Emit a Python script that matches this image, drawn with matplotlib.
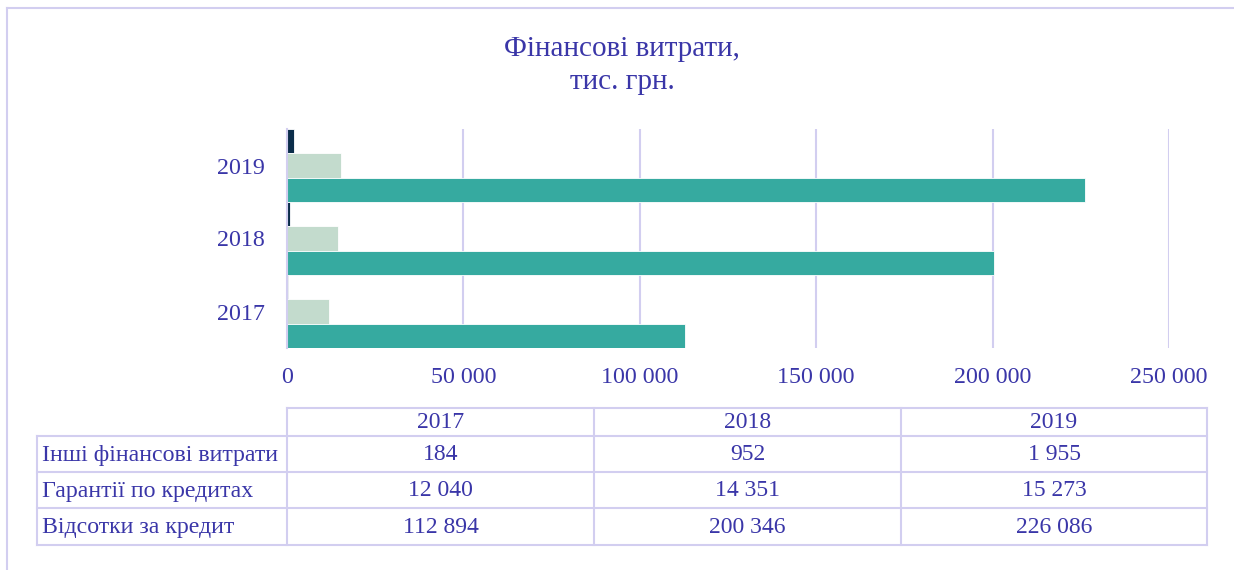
import matplotlib.pyplot as plt
import numpy as np
from matplotlib.ticker import FuncFormatter

years = ['2017', '2018', '2019']
series_names = ['Інші фінансові витрати', 'Гарантії по кредитах', 'Відсотки за кредит']
other_costs = [184, 952, 1955]
guarantees = [12040, 14351, 15273]
interest = [112894, 200346, 226086]
x_ticks = [0, 50000, 100000, 150000, 200000, 250000]

colors = ['#0b2d4a', '#c3dbcd', '#36aaa0']
text_color = '#3a36a8'
line_color = '#d2cef0'

plt.rcParams['font.family'] = ['Liberation Serif', 'DejaVu Serif']


def fmt(v):
    return f'{int(v):,}'.replace(',', ' ')


fig = plt.figure(figsize=(12.34, 5.70), dpi=100)

# frame of the chart area (only top and left visible)
bg = fig.add_axes([0, 0, 1, 1])
bg.set_xlim(0, 1234)
bg.set_ylim(570, 0)
bg.axis('off')
bg.plot([7, 1240], [8, 8], color=line_color, lw=1.5)
bg.plot([7, 7], [8, 575], color=line_color, lw=1.5)

ax = fig.add_axes([287 / 1234, 1 - 348 / 570, 882 / 1234, 219 / 570])
pos = np.arange(len(years))
h = 1 / 3
all_series = [other_costs, guarantees, interest]
for i, vals in enumerate(all_series):
    ax.barh(pos + h - i * h, vals, height=h, color=colors[i],
            edgecolor='white', linewidth=0.6, zorder=3, label=series_names[i])

ax.set_ylim(-0.5, 2.5)
ax.set_xlim(0, 250000)
ax.set_xticks(x_ticks)
ax.xaxis.set_major_formatter(FuncFormatter(lambda v, p: fmt(v)))
ax.set_yticks(pos)
ax.set_yticklabels(years)
ax.tick_params(length=0, labelsize=17.3, labelcolor=text_color)
ax.tick_params(axis='x', pad=14)
ax.tick_params(axis='y', pad=16)
ax.grid(axis='x', color=line_color, lw=1.5, zorder=0)
for s in ['top', 'right', 'bottom']:
    ax.spines[s].set_visible(False)
ax.spines['left'].set_color(line_color)
ax.spines['left'].set_linewidth(1.5)
ax.spines['left'].set_zorder(4)

fig.text(622 / 1234, 1 - 49 / 570, 'Фінансові витрати,', ha='center', va='center',
         fontsize=21, color=text_color)
fig.text(622 / 1234, 1 - 82 / 570, 'тис. грн.', ha='center', va='center',
         fontsize=21, color=text_color)

# data table
col_x = [287, 594, 901, 1207]
row_y = [408, 436, 472, 508, 545]
left_x = 37
lw = 1.5
# header row
bg.plot([col_x[0], col_x[-1]], [row_y[0], row_y[0]], color=line_color, lw=lw)
for y in row_y[1:]:
    bg.plot([left_x, col_x[-1]], [y, y], color=line_color, lw=lw)
for x in col_x:
    bg.plot([x, x], [row_y[0], row_y[-1]], color=line_color, lw=lw)
bg.plot([left_x, left_x], [row_y[1], row_y[-1]], color=line_color, lw=lw)

for j, yr in enumerate(years):
    bg.text((col_x[j] + col_x[j + 1]) / 2, (row_y[0] + row_y[1]) / 2 + 1, yr,
            ha='center', va='center', fontsize=17, color=text_color)
for i, vals in enumerate(all_series):
    yc = (row_y[i + 1] + row_y[i + 2]) / 2 + 1
    bg.text(left_x + 5, yc, series_names[i], ha='left', va='center',
            fontsize=17.2, color=text_color)
    for j, v in enumerate(vals):
        bg.text((col_x[j] + col_x[j + 1]) / 2, yc, fmt(v),
                ha='center', va='center', fontsize=17, color=text_color)

fig.savefig('out.png', dpi=100)
